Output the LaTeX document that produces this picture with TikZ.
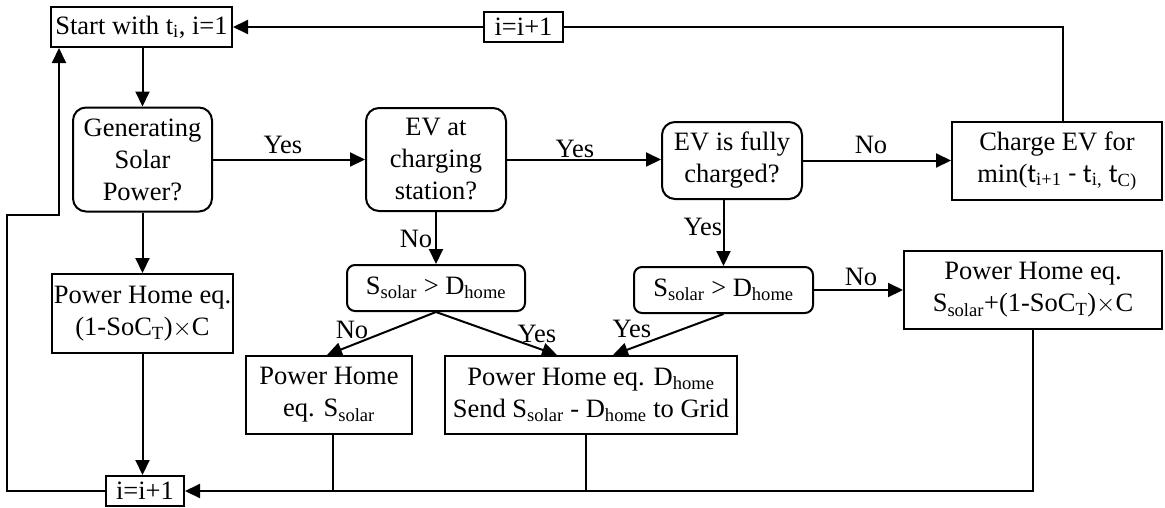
\documentclass[tikz,border=0pt]{standalone}
\usepackage{fontspec}
\setmainfont{Liberation Serif}
\newfontfamily\calfont{Carlito}
\usetikzlibrary{arrows.meta}
\newcommand{\mysub}[1]{\textsubscript{#1}}
\newcommand{\ct}{{\calfont t}}
\begin{document}
\begin{tikzpicture}[x=1pt,y=-1pt,
  every node/.style={font=\fontsize{26.5}{32}\selectfont, align=center, inner sep=0pt},
  box/.style={draw, line width=2pt},
  rbox/.style={box, rounded corners=13pt},
  sbox/.style={box, rounded corners=8pt},
  ln/.style={line width=2pt},
  arr/.style={ln, -{Triangle[length=15pt,width=14pt]}},
  lbl/.style={}]
\useasboundingbox (0,0) rectangle (1165,507);

% nodes
\node[box, minimum width=181pt, minimum height=40pt] (start) at (141.5,27) {Start with t\mysub{i}, i=1};
\node[box, minimum width=79pt, minimum height=30pt] (itop) at (523.5,27) {i=i+1};
\node[rbox, minimum width=139pt, minimum height=104pt] (gen) at (142.5,159.5) {Generating\\Solar\\Power?};
\node[rbox, minimum width=140pt, minimum height=103pt] (evc) at (436,159.5) {EV at\\charging\\station?};
\node[rbox, minimum width=140pt, minimum height=77pt] (evf) at (732,160.5) {EV is fully\\charged?};
\node[box, minimum width=210pt, minimum height=78pt] (charge) at (1057,161) {Charge EV for\\min(\ct\mysub{i+1} {\calfont -} \ct\mysub{i,} \ct\mysub{C)}};
\node[box, minimum width=181pt, minimum height=79pt] (phl) at (142.5,313.5) {Power Home eq.\\(1-SoC\mysub{T})$\times$C};
\node[sbox, minimum width=178pt, minimum height=46pt] (s1) at (436,288) {S\mysub{solar} {>} D\mysub{home}};
\node[sbox, minimum width=179pt, minimum height=46pt] (s2) at (723.5,290) {S\mysub{solar} {>} D\mysub{home}};
\node[box, minimum width=258pt, minimum height=78pt] (phr) at (1033,290) {Power Home eq.\\S\mysub{solar}+(1-SoC\mysub{T})$\times$C};
\node[box, minimum width=166pt, minimum height=78pt] (phs) at (329,395) {Power Home\\eq. S\mysub{solar}};
\node[box, minimum width=292pt, minimum height=78pt] (phb) at (591,395) {Power Home eq. D\mysub{home}\\Send S\mysub{solar} - D\mysub{home} to Grid};
\node[box, minimum width=78pt, minimum height=30pt] (ibot) at (145,491) {i=i+1};

% coordinates
\coordinate (t1) at (1063,27);
\coordinate (l2) at (7,215);
\coordinate (l3) at (59,215);

% connectors
\draw[arr] (start.south -| gen.north) -- (gen.north);
\draw[arr] (gen.east) -- (evc.west);
\draw[arr] (evc.east) -- (evc.east -| evf.west);
\draw[arr] (evf.east) -- (evf.east -| charge.west);
\draw[ln] (charge.north -| t1) -- (t1) -- (itop.east);
\draw[arr] (itop.west) -- (start.east);
\draw[arr] (gen.south) -- (phl.north);
\draw[arr] (phl.south) -- (phl.south |- ibot.north);
\draw[arr] (evc.south) -- (s1.north);
\draw[arr] (evf.south -| s2.north) -- (s2.north);
\draw[arr] (s2.east) -- (s2.east -| phr.west);
\draw[arr] (s1.south) -- ([xshift=-2pt]phs.north);
\draw[arr] (s1.south) -- ([xshift=-34pt]phb.north);
\draw[arr] (s2.south) -- ([xshift=22pt]phb.north);
\draw[arr] (phr.south) |- (ibot.east);
\draw[ln] ([xshift=4pt]phs.south) -- ([xshift=4pt]phs.south |- ibot.east);
\draw[ln] ([xshift=-5pt]phb.south) -- ([xshift=-5pt]phb.south |- ibot.east);
\draw[arr] (ibot.west) -| (l2) -- (l3) -- (l3 |- start.south);

% labels
\node[lbl] (y1) at (283,145) {Yes};
\node[lbl] (y2) at (575,149) {Yes};
\node[lbl] (n1) at (871,145) {No};
\node[lbl] (n2) at (416,239) {No};
\node[lbl] (y3) at (703,227) {Yes};
\node[lbl] (n3) at (861,277) {No};
\node[lbl] (n4) at (352,330) {No};
\node[lbl] (y4) at (537,334) {Yes};
\node[lbl] (y5) at (632,329) {Yes};
\end{tikzpicture}
\end{document}
